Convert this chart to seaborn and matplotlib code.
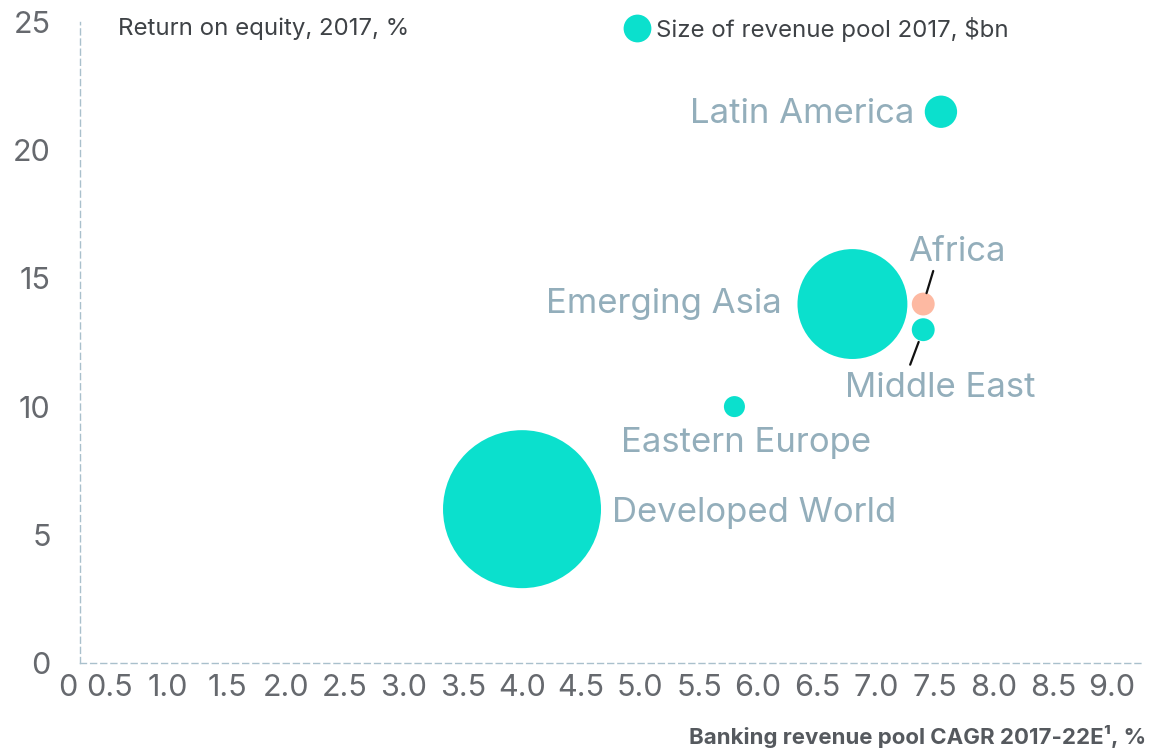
import matplotlib
matplotlib.use("Agg")
import matplotlib.pyplot as plt
from matplotlib.lines import Line2D
from matplotlib.transforms import ScaledTranslation
import numpy as np
import pandas as pd
import seaborn as sns

# --- data -------------------------------------------------------------
regions = ["Developed World", "Emerging Asia", "Latin America",
           "Africa", "Middle East", "Eastern Europe"]
cagr = [4.0, 6.8, 7.55, 7.4, 7.4, 5.8]          # banking revenue pool CAGR 2017-22E, %
roe = [6.0, 14.0, 21.5, 14.0, 13.0, 10.0]        # return on equity 2017, %
pool = [3100, 1500, 130, 65, 65, 55]             # size of revenue pool 2017, $bn
highlight = ["base", "base", "base", "africa", "base", "base"]

x_ticks = [0, 0.5, 1.0, 1.5, 2.0, 2.5, 3.0, 3.5, 4.0, 4.5,
           5.0, 5.5, 6.0, 6.5, 7.0, 7.5, 8.0, 8.5, 9.0]
x_tick_labels = ["0", "0.5", "1.0", "1.5", "2.0", "2.5", "3.0", "3.5", "4.0", "4.5",
                 "5.0", "5.5", "6.0", "6.5", "7.0", "7.5", "8.0", "8.5", "9.0"]
y_ticks = [0, 5, 10, 15, 20, 25]
y_tick_labels = ["0", "5", "10", "15", "20", "25"]

df = pd.DataFrame({"region": regions, "cagr": cagr, "roe": roe,
                   "pool": pool, "group": highlight})

# --- style ------------------------------------------------------------
TEAL = "#0be0cd"
SALMON = "#fdb9a2"
LABEL = "#93aebb"
TICK = "#66696e"
DARK = "#3e4246"
AXIS = "#a9c0cc"

sns.set_style("white")
plt.rcParams["font.family"] = ["Inter", "DejaVu Sans"]

W, H = 1163, 752
fig = plt.figure(figsize=(W / 100, H / 100), dpi=100)

xmin, xmax = -0.25, 9.27
ax = fig.add_axes([20.5 / W, (H - 663) / H, 1123.4 / W, 641 / H])

sns.scatterplot(data=df, x="cagr", y="roe", size="pool", sizes=(0, 12940),
                size_norm=(0, max(pool)), hue="group",
                palette={"base": TEAL, "africa": SALMON},
                linewidth=0, alpha=1, legend=False, ax=ax, clip_on=False)

ax.set_xlim(xmin, xmax)
ax.set_ylim(0, 25)
ax.set_xlabel("")
ax.set_ylabel("")

# dashed axis lines, y-axis sits just right of the zero tick
for s in ["top", "right"]:
    ax.spines[s].set_visible(False)
ax.spines["left"].set_position(("data", 0.254))
ax.spines["bottom"].set_bounds(0.254, xmax)
for s in ["left", "bottom"]:
    ax.spines[s].set_color(AXIS)
    ax.spines[s].set_linewidth(1.0)
    ax.spines[s].set_linestyle((0, (4.3, 3.0)))

ax.set_xticks(x_ticks)
ax.set_xticklabels(x_tick_labels)
ax.set_yticks(y_ticks)
ax.set_yticklabels(y_tick_labels)
ax.tick_params(axis="both", length=0, labelsize=22, labelcolor=TICK)
ax.tick_params(axis="y", pad=21)
ax.tick_params(axis="x", pad=8)

# keep the x "0" clear of the y "0"
first = ax.get_xticklabels()[0]
first.set_transform(first.get_transform() + ScaledTranslation(18 / 100, 0, fig.dpi_scale_trans))

# region labels (offsets in points from each bubble centre)
label_style = {
    "Latin America": ((-19, -8), "right"),
    "Emerging Asia": ((-51, -6.5), "right"),
    "Africa": ((-11, 31), "left"),
    "Middle East": ((-56, -48.5), "left"),
    "Eastern Europe": ((-82, -32.7), "left"),
    "Developed World": ((65, -9.4), "left"),
}
for r, xv, yv in zip(regions, cagr, roe):
    off, ha = label_style[r]
    ax.annotate(r, (xv, yv), xytext=off, textcoords="offset points",
                ha=ha, va="baseline", fontsize=25, color=LABEL)

# leader lines for the two small overlapping bubbles
leaders = {"Africa": ((7.2, 23.8), 8.2), "Middle East": ((-9.4, -25.2), 9.4)}
for r, xv, yv in zip(regions, cagr, roe):
    if r in leaders:
        start, shrink = leaders[r]
        ax.annotate("", (xv, yv), xytext=start, textcoords="offset points",
                    arrowprops=dict(arrowstyle="-", color="#111111", lw=1.6,
                                    shrinkA=0, shrinkB=shrink))

# titles
fig.text(118 / W, 1 - 29 / H, "Return on equity, 2017, %", ha="left",
         va="center", fontsize=17.3, color=DARK)
fig.text(1146 / W, 1 - 737 / H, "Banking revenue pool CAGR 2017-22E\u00b9, %",
         ha="right", va="center", fontsize=16, fontweight="bold", color="#55595e")

handle = Line2D([], [], marker="o", linestyle="", markersize=20,
                markerfacecolor=TEAL, markeredgewidth=0)
fig.legend([handle], ["Size of revenue pool 2017, $bn"], loc="center left",
           bbox_to_anchor=(612 / W, 1 - 29 / H), frameon=False,
           handletextpad=0.15, fontsize=17.3, labelcolor=DARK, borderaxespad=0,
           handlelength=1.3)

fig.savefig("out.png", dpi=100)
